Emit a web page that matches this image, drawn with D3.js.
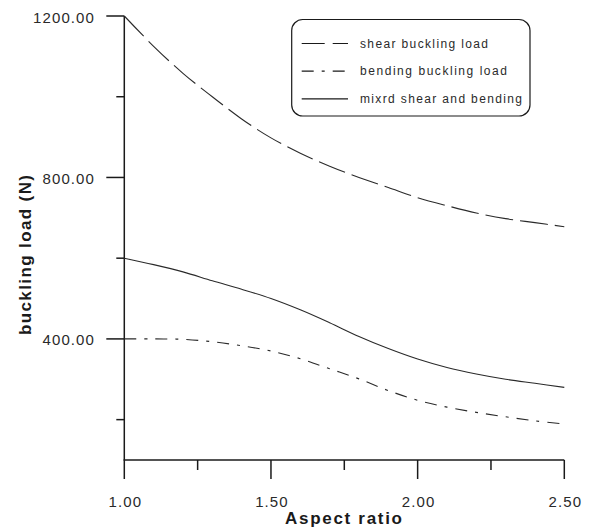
<!DOCTYPE html>
<html>
<head>
<meta charset="utf-8">
<script src="https://cdn.jsdelivr.net/npm/d3@7"></script>
<style>
  html, body { margin: 0; padding: 0; background: #ffffff; }
  svg { display: block; font-family: "Liberation Sans", Arial, sans-serif; }
</style>
</head>
<body>
<svg id="chart" width="589" height="529"></svg>
<script>
// ---- data ----
const aspectRatio = [1.0, 1.1, 1.2, 1.3, 1.4, 1.5, 1.6, 1.7, 1.8, 1.9, 2.0, 2.1, 2.2, 2.3, 2.4, 2.5];
const shearLoad   = [1200, 1125, 1058, 1000, 945, 898, 860, 828, 800, 775, 750, 730, 712, 698, 688, 678];
const bendingLoad = [400, 400, 399, 393, 383, 370, 351, 326, 301, 272, 248, 231, 218, 207, 197, 189];
const mixedLoad   = [600, 584, 566, 544, 523, 500, 472, 440, 406, 376, 350, 329, 313, 300, 290, 280];
const seriesNames = ["shear buckling load", "bending buckling load", "mixrd shear and bending"];
const xTickValues = [1.0, 1.5, 2.0, 2.5];
const xMinorTicks = [1.25, 1.75, 2.25];
const yTickValues = [400, 800, 1200];
const yMinorTicks = [200, 600, 1000];
const xTitle = "Aspect ratio";
const yTitle = "buckling load (N)";

// ---- layout ----
const svg = d3.select("#chart");
const x = d3.scaleLinear().domain([1.0, 2.5]).range([124.3, 564.3]);
const y = d3.scaleLinear().domain([100, 1200]).range([460, 16]);
const ink = "#1a1a1a";
const textInk = "#2a2a2a";

// axes lines
svg.append("line").attr("x1", x(1.0)).attr("x2", x(1.0)).attr("y1", y(1200)).attr("y2", y(100))
  .attr("stroke", ink).attr("stroke-width", 1.5);
svg.append("line").attr("x1", x(1.0) - 0.75).attr("x2", x(2.5)).attr("y1", y(100)).attr("y2", y(100))
  .attr("stroke", ink).attr("stroke-width", 1.5);

// y ticks
svg.selectAll(".ytick").data(yTickValues).enter().append("line")
  .attr("x1", x(1.0) - 18).attr("x2", x(1.0)).attr("y1", d => y(d)).attr("y2", d => y(d))
  .attr("stroke", ink).attr("stroke-width", 1.5);
svg.selectAll(".yminor").data(yMinorTicks).enter().append("line")
  .attr("x1", x(1.0) - 8).attr("x2", x(1.0)).attr("y1", d => y(d)).attr("y2", d => y(d))
  .attr("stroke", ink).attr("stroke-width", 1.5);
svg.selectAll(".ylab").data(yTickValues).enter().append("text")
  .attr("x", 95).attr("y", d => y(d) + 6.5)
  .attr("text-anchor", "end").attr("font-size", 15).attr("letter-spacing", 1.1)
  .attr("fill", textInk).text(d => d3.format(".2f")(d));

// x ticks
svg.selectAll(".xtick").data(xTickValues).enter().append("line")
  .attr("x1", d => x(d)).attr("x2", d => x(d)).attr("y1", y(100)).attr("y2", y(100) + 19)
  .attr("stroke", ink).attr("stroke-width", 1.5);
svg.selectAll(".xminor").data(xMinorTicks).enter().append("line")
  .attr("x1", d => x(d)).attr("x2", d => x(d)).attr("y1", y(100)).attr("y2", y(100) + 10)
  .attr("stroke", ink).attr("stroke-width", 1.5);
svg.selectAll(".xlab").data(xTickValues).enter().append("text")
  .attr("x", d => x(d) + 1).attr("y", 507)
  .attr("text-anchor", "middle").attr("font-size", 15).attr("letter-spacing", 1.1)
  .attr("fill", textInk).text(d => d3.format(".2f")(d));

// titles
svg.append("text").attr("x", 285).attr("y", 524)
  .attr("font-size", 17).attr("font-weight", "bold").attr("fill", ink)
  .attr("textLength", 117).attr("lengthAdjust", "spacing")
  .text(xTitle);
svg.append("text").attr("transform", "translate(31,335) rotate(-90)")
  .attr("font-size", 17).attr("font-weight", "bold").attr("fill", ink)
  .attr("textLength", 160).attr("lengthAdjust", "spacing")
  .text(yTitle);

// curves
const styles = [
  { values: shearLoad, dash: "28,7" },
  { values: bendingLoad, dash: "12,8,3,8" },
  { values: mixedLoad, dash: null }
];
const line = d3.line().x(d => x(d[0])).y(d => y(d[1])).curve(d3.curveCatmullRom);
styles.forEach(s => {
  svg.append("path")
    .datum(aspectRatio.map((a, i) => [a, s.values[i]]))
    .attr("d", line)
    .attr("fill", "none").attr("stroke", "#2a2a2a").attr("stroke-width", 1.1)
    .attr("stroke-dasharray", s.dash);
});

// legend
svg.append("rect").attr("x", 291.7).attr("y", 19.5).attr("width", 238.3).attr("height", 96.5)
  .attr("rx", 11).attr("ry", 11).attr("fill", "none").attr("stroke", ink).attr("stroke-width", 1.2);
const legendDash = ["23,8", "12,8,3,8", null];
const legendLen = [128, 147, 162];
seriesNames.forEach((name, i) => {
  const ly = 43.5 + i * 27.7;
  svg.append("line").attr("x1", 301.7).attr("x2", 348).attr("y1", ly).attr("y2", ly)
    .attr("stroke", ink).attr("stroke-width", 1.2).attr("stroke-dasharray", legendDash[i]);
  svg.append("text").attr("x", 360).attr("y", ly + 4)
    .attr("font-size", 12).attr("fill", textInk)
    .attr("textLength", legendLen[i]).attr("lengthAdjust", "spacing")
    .text(name);
});
</script>
</body>
</html>
